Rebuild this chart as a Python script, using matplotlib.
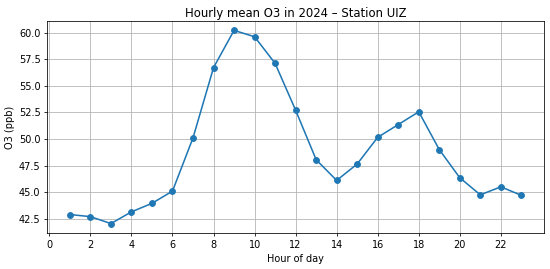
import matplotlib
matplotlib.use('Agg')
import matplotlib.pyplot as plt

# --- Data ---
hours = list(range(1, 24))
o3_ppb = [42.9, 42.7, 42.05, 43.15, 43.95, 45.1, 50.1, 56.7, 60.2, 59.6, 57.1,
          52.7, 48.05, 46.1, 47.65, 50.15, 51.35, 52.55, 49.0, 46.35, 44.75,
          45.5, 44.7]

DPI = 70
fig, ax = plt.subplots(figsize=(550 / DPI, 269 / DPI), dpi=DPI)

ax.plot(hours, o3_ppb, marker='o', color='#1f77b4', linewidth=1.6)

ax.set_xticks(range(0, 24, 2))
ax.set_title('Hourly mean O3 in 2024 – Station UIZ', pad=4)
ax.set_xlabel('Hour of day')
ax.set_ylabel('O3 (ppb)')
ax.grid(True)

fig.subplots_adjust(left=0.086, right=0.989, top=0.923, bottom=0.133)
fig.savefig('out.png', dpi=DPI)
plt.close()
